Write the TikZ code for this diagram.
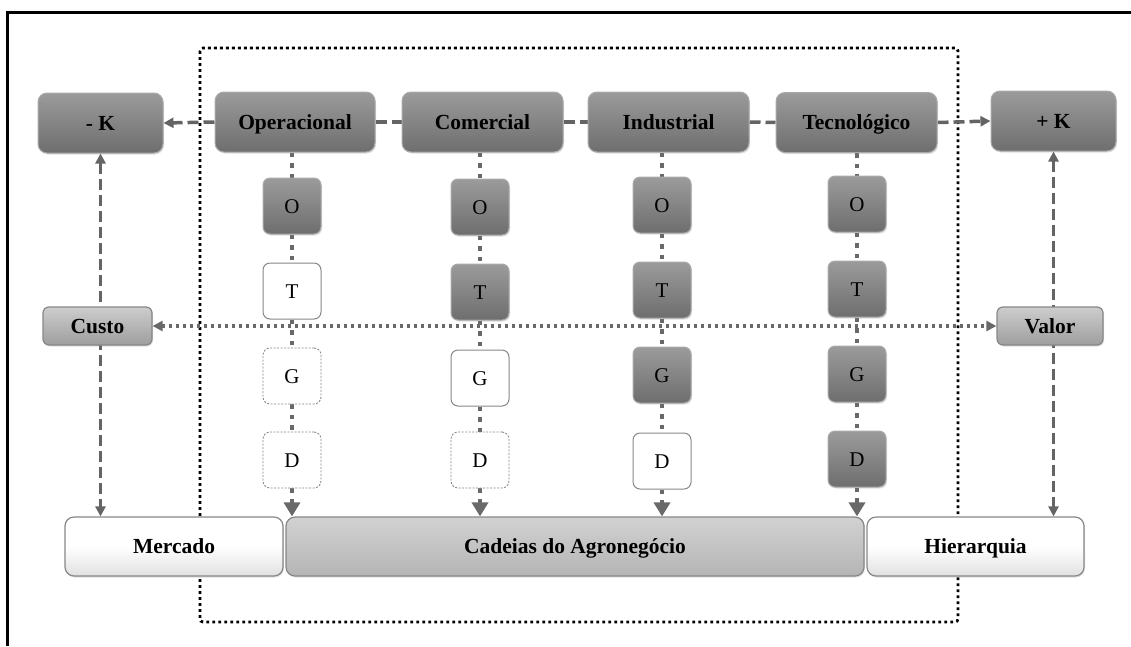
\documentclass[tikz,border=0pt]{standalone}
\usepackage{fontspec}
\setmainfont{Liberation Serif}
\usetikzlibrary{arrows.meta,backgrounds,shadows}
\definecolor{boxtop}{RGB}{155,155,155}
\definecolor{boxbot}{RGB}{110,110,110}
\definecolor{boxedge}{RGB}{170,170,170}
\definecolor{linegray}{RGB}{100,100,100}
\definecolor{dotgray}{RGB}{105,105,105}
\definecolor{lightedge}{RGB}{135,135,135}
\definecolor{custotop}{RGB}{205,205,205}
\definecolor{custobot}{RGB}{158,158,158}
\definecolor{cadtop}{RGB}{210,210,210}
\definecolor{cadbot}{RGB}{180,180,180}
\tikzset{
  tipsmall/.tip={Triangle[length=10pt,width=10pt]},
  tipbig/.tip={Triangle[length=14pt,width=16pt]},
  shade/.style={drop shadow={opacity=0.25,shadow xshift=1pt,shadow yshift=-1.5pt}},
  txt/.style={text height=14pt, text depth=0pt, font=\fontsize{21}{24}\selectfont},
  btxt/.style={text height=14pt, text depth=0pt, font=\fontsize{21.5}{24}\selectfont\bfseries},
  bigbox/.style={rounded corners=9pt, top color=boxtop, bottom color=boxbot, draw=boxedge,
    line width=1pt, minimum height=60, inner sep=0pt, shade, btxt},
  smalldark/.style={rounded corners=7pt, top color=boxtop, bottom color=boxbot, draw=boxedge,
    line width=1pt, minimum width=58, minimum height=56, inner sep=0pt, shade, txt},
  smallwhite/.style={rounded corners=7pt, fill=white, draw=lightedge,
    line width=1pt, minimum width=58, minimum height=56, inner sep=0pt, txt},
  smalldash/.style={rounded corners=7pt, fill=white, draw=lightedge, dash pattern=on 2pt off 1.5pt,
    line width=0.9pt, minimum width=58, minimum height=56, inner sep=0pt, txt},
  midbox/.style={rounded corners=6pt, top color=custotop, bottom color=custobot, draw=lightedge,
    line width=1.2pt, minimum height=38, inner sep=0pt, shade, btxt},
  whitebase/.style={rounded corners=9pt, top color=white, bottom color=white!88!black, middle color=white, draw=lightedge,
    line width=1.2pt, minimum height=59, inner sep=0pt, shade, btxt},
  graybase/.style={rounded corners=9pt, top color=cadtop, bottom color=cadbot, draw=lightedge,
    line width=1.2pt, minimum height=59, inner sep=0pt, shade, btxt},
  hdash/.style={draw=linegray, line width=3.5pt, dash pattern=on 11pt off 5pt},
  vdash/.style={draw=linegray, line width=3pt, dash pattern=on 11pt off 5pt},
  coldot/.style={draw=dotgray, line width=4.5pt, dash pattern=on 4.5pt off 6pt},
  hdot/.style={draw=dotgray, line width=3.2pt, dash pattern=on 3.5pt off 3.5pt},
  framedot/.style={draw=black, line width=2.8pt, dash pattern=on 2.8pt off 3.2pt, rounded corners=3pt}
}
\begin{document}
\begin{tikzpicture}[x=1pt,y=-1pt]
\useasboundingbox (0,0) rectangle (1131,646);
% outer frame
\coordinate (ftl) at (7,12);
\coordinate (ftr) at (1131,12);
\coordinate (fbl) at (7,646);
\draw[line width=3pt] (ftr) -- (ftl) -- (fbl);

% top row
\node[bigbox, minimum width=125] (km) at (100.5,123) {- K};
\node[bigbox, minimum width=160] (oper) at (295,122) {Operacional};
\node[bigbox, minimum width=161] (com) at (482.5,122) {Comercial};
\node[bigbox, minimum width=161] (ind) at (668.5,122) {Industrial};
\node[bigbox, minimum width=161] (tec) at (856.5,122.5) {Tecnológico};
\node[bigbox, minimum width=125] (kp) at (1053.5,121) {+ K};

% columns
\node[smalldark] (o1) at (292,206) {O};
\node[smallwhite] (t1) at (292,291) {T};
\node[smalldash] (g1) at (292,376) {G};
\node[smalldash] (d1) at (292,460) {D};

\node[smalldark] (o2) at (480,207) {O};
\node[smalldark] (t2) at (480,292) {T};
\node[smallwhite] (g2) at (480,378) {G};
\node[smalldash] (d2) at (480,460) {D};

\node[smalldark] (o3) at (662,205) {O};
\node[smalldark] (t3) at (662,290) {T};
\node[smalldark] (g3) at (662,375) {G};
\node[smallwhite] (d3) at (662,461) {D};

\node[smalldark] (o4) at (857,204) {O};
\node[smalldark] (t4) at (857,289) {T};
\node[smalldark] (g4) at (857,374) {G};
\node[smalldark] (d4) at (857,459) {D};

% middle
\node[midbox, minimum width=109] (custo) at (97.5,326) {Custo};
\node[midbox, minimum width=106] (valor) at (1050,326) {Valor};

% bottom
\node[whitebase, minimum width=218] (merc) at (174,546.5) {Mercado};
\node[graybase, minimum width=578] (cad) at (575,546.5) {Cadeias do Agronegócio};
\node[whitebase, minimum width=217] (hier) at (975.5,546.5) {Hierarquia};

\begin{scope}[on background layer]
  % dotted frame
  \coordinate (dtl) at (200,48);
  \coordinate (dbr) at (958,622);
  \draw[framedot] (dtl) rectangle (dbr);
  % horizontal dashed line
  \draw[hdash, -{tipsmall}] (oper.west) -- (km.east);
  \draw[hdash] (oper.east) -- (com.west);
  \draw[hdash] (com.east) -- (ind.west);
  \draw[hdash] (ind.east) -- (tec.west);
  \draw[hdash, -{tipsmall}] (tec.east) -- (kp.west);
  % vertical dashed sides
  \draw[vdash, {tipsmall}-{tipsmall}] (km.south) -- (km.south |- merc.north);
  \draw[vdash, {tipsmall}-{tipsmall}] (kp.south) -- (kp.south |- hier.north);
  % custo - valor
  \draw[hdot, {tipsmall}-{tipsmall}] (custo.east) -- (valor.west);
  % column dotted connectors
  \foreach \c/\top in {1/oper,2/com,3/ind,4/tec}{
    \draw[coldot] (o\c.north |- \top.south) -- (o\c.north);
    \draw[coldot] (o\c.south) -- (t\c.north);
    \draw[coldot] (t\c.south) -- (g\c.north);
    \draw[coldot] (g\c.south) -- (d\c.north);
    \draw[coldot, -{tipbig}] (d\c.south) -- (d\c.south |- cad.north);
  }
\end{scope}
\end{tikzpicture}
\end{document}
